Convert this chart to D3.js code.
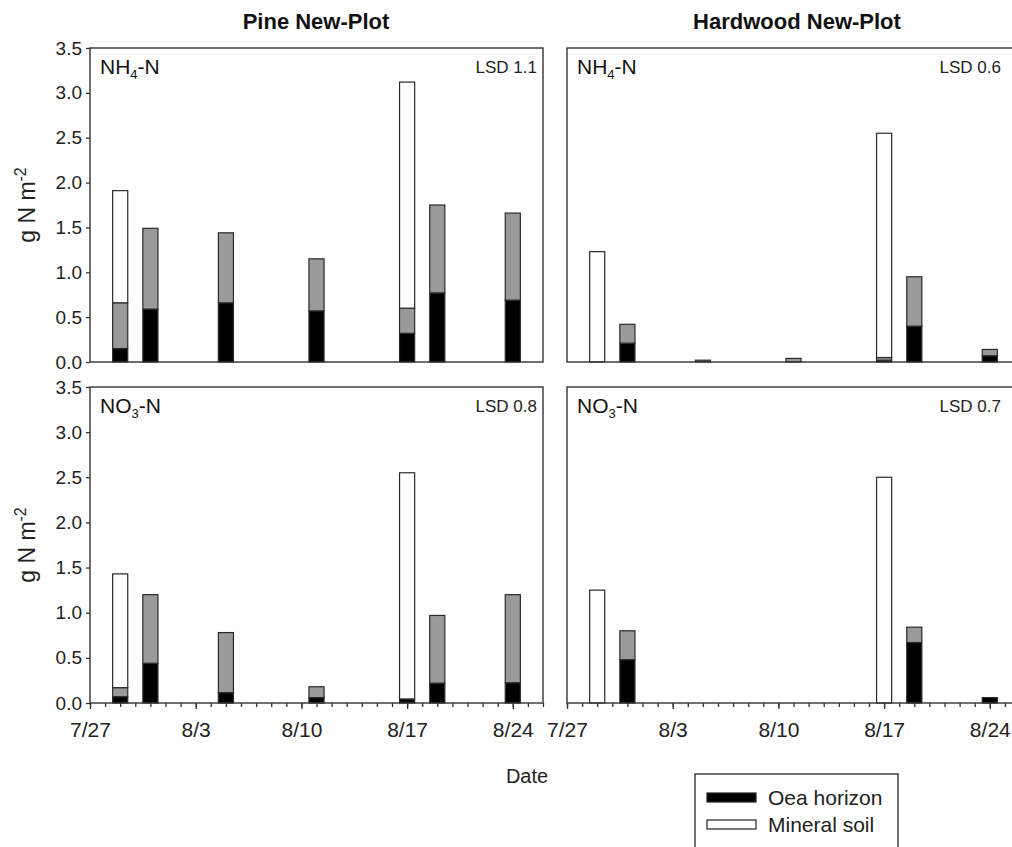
<!DOCTYPE html>
<html>
<head>
<meta charset="utf-8">
<script src="https://cdn.jsdelivr.net/npm/d3@7"></script>
<style>
  html, body { margin: 0; padding: 0; background: #fff; }
  svg { display: block; font-family: "Liberation Sans", Arial, sans-serif; }
</style>
</head>
<body>
<svg id="chart" width="1012" height="847"></svg>
<script>
// ---- data ----
const sampleDates = ["7/29", "7/31", "8/5", "8/11", "8/17", "8/19", "8/24"];
const tickLabels = ["7/27", "8/3", "8/10", "8/17", "8/24"];
const dateDomain = ["7/27", "8/26"];
const yTicks = [0, 0.5, 1.0, 1.5, 2.0, 2.5, 3.0, 3.5];

// Pine NH4-N
const pineNH4Oea     = [0.15, 0.59, 0.66, 0.57, 0.32, 0.77, 0.69];
const pineNH4Gray    = [0.51, 0.90, 0.78, 0.58, 0.28, 0.98, 0.97];
const pineNH4Mineral = [1.25, 0, 0, 0, 2.52, 0, 0];
// Hardwood NH4-N
const hardNH4Oea     = [0, 0.21, 0, 0, 0.02, 0.40, 0.07];
const hardNH4Gray    = [0, 0.21, 0.02, 0.04, 0.03, 0.55, 0.07];
const hardNH4Mineral = [1.23, 0, 0, 0, 2.50, 0, 0];
// Pine NO3-N
const pineNO3Oea     = [0.07, 0.44, 0.115, 0.06, 0.045, 0.22, 0.225];
const pineNO3Gray    = [0.10, 0.76, 0.665, 0.12, 0, 0.75, 0.975];
const pineNO3Mineral = [1.26, 0, 0, 0, 2.505, 0, 0];
// Hardwood NO3-N
const hardNO3Oea     = [0, 0.48, 0, 0, 0, 0.67, 0.06];
const hardNO3Gray    = [0, 0.32, 0, 0, 0, 0.17, 0];
const hardNO3Mineral = [1.25, 0, 0, 0, 2.50, 0, 0];

const colTitles = ["Pine New-Plot", "Hardwood New-Plot"];
const lsdLabels = ["LSD 1.1", "LSD 0.6", "LSD 0.8", "LSD 0.7"];
const legendLabels = ["Oea horizon", "Mineral soil"];

// ---- layout ----
const svg = d3.select("#chart");
const parse = d3.utcParse("%m/%d");
const colX = [[90, 543], [567, 1020]];
const rowY = [[48, 362], [387, 703]];
const layerKeys = ["oea", "gray", "mineral"];
const layerFill = { oea: "#000", gray: "#9a9a9a", mineral: "#fff" };
const font = "'Liberation Sans', Arial, sans-serif";

const panels = [
  { row: 0, col: 0, ion: "NH", sub: "4", lsd: lsdLabels[0], lsdOff: 6, series: [pineNH4Oea, pineNH4Gray, pineNH4Mineral] },
  { row: 0, col: 1, ion: "NH", sub: "4", lsd: lsdLabels[1], lsdOff: 19, series: [hardNH4Oea, hardNH4Gray, hardNH4Mineral] },
  { row: 1, col: 0, ion: "NO", sub: "3", lsd: lsdLabels[2], lsdOff: 6, series: [pineNO3Oea, pineNO3Gray, pineNO3Mineral] },
  { row: 1, col: 1, ion: "NO", sub: "3", lsd: lsdLabels[3], lsdOff: 19, series: [hardNO3Oea, hardNO3Gray, hardNO3Mineral] }
];

const day = 24 * 3600 * 1000;

panels.forEach(p => {
  const [x0, x1] = colX[p.col];
  const [y0, y1] = rowY[p.row];
  const x = d3.scaleUtc().domain(dateDomain.map(parse)).range([x0, x1]);
  const y = d3.scaleLinear().domain([0, 3.5]).range([y1, y0]);
  const g = svg.append("g");

  const rows = sampleDates.map((d, i) => ({
    date: parse(d), oea: p.series[0][i], gray: p.series[1][i], mineral: p.series[2][i]
  }));
  const stacked = d3.stack().keys(layerKeys)(rows);

  stacked.forEach(layer => {
    g.append("g").selectAll("rect")
      .data(layer.filter(s => s[1] - s[0] > 0))
      .join("rect")
      .attr("x", s => x(new Date(+s.data.date - day / 2)))
      .attr("width", s => x(new Date(+s.data.date + day / 2)) - x(new Date(+s.data.date - day / 2)))
      .attr("y", s => y(s[1]))
      .attr("height", s => y(s[0]) - y(s[1]))
      .attr("fill", layerFill[layer.key])
      .attr("stroke", "#2a2a2a")
      .attr("stroke-width", 1.2);
  });

  // frame
  g.append("rect")
    .attr("x", x0).attr("y", y0).attr("width", x1 - x0).attr("height", y1 - y0)
    .attr("fill", "none").attr("stroke", "#333").attr("stroke-width", 1.4);

  // y axis (left column only)
  if (p.col === 0) {
    const ya = g.append("g").attr("transform", `translate(${x0},0)`)
      .call(d3.axisLeft(y).tickValues(yTicks).tickFormat(d3.format(".1f")).tickSize(4).tickPadding(4));
    ya.select(".domain").remove();
    ya.selectAll("line").attr("stroke", "#333").attr("stroke-width", 1.3);
    ya.selectAll("text").attr("font-family", font).attr("font-size", 19).attr("fill", "#222");
  }

  // x axis (bottom row only)
  if (p.row === 1) {
    const minor = d3.utcDay.range(parse(dateDomain[0]), new Date(+parse(dateDomain[1]) + 1));
    const xm = g.append("g").attr("transform", `translate(0,${y1})`)
      .call(d3.axisBottom(x).tickValues(minor).tickSize(4).tickFormat(""));
    xm.select(".domain").remove();
    xm.selectAll("line").attr("stroke", "#333").attr("stroke-width", 1.3);
    const xa = g.append("g").attr("transform", `translate(0,${y1})`)
      .call(d3.axisBottom(x).tickValues(tickLabels.map(parse)).tickSize(6).tickPadding(13)
        .tickFormat(d3.utcFormat("%-m/%-d")));
    xa.select(".domain").remove();
    xa.selectAll("line").attr("stroke", "#333").attr("stroke-width", 1.3);
    xa.selectAll("text").attr("font-family", font).attr("font-size", 21).attr("fill", "#222");
  }

  // panel label
  const lbl = g.append("text").attr("x", x0 + 10).attr("y", y0 + 26)
    .attr("font-family", font).attr("font-size", 21).attr("fill", "#111");
  lbl.append("tspan").text(p.ion);
  lbl.append("tspan").attr("font-size", 13).attr("dy", 5).text(p.sub);
  lbl.append("tspan").attr("dy", -5).text("-N");

  g.append("text").attr("x", x1 - p.lsdOff).attr("y", y0 + 25)
    .attr("text-anchor", "end").attr("font-family", font).attr("font-size", 17).attr("fill", "#222")
    .text(p.lsd);
});

// column titles
const titleCenters = [316, 797];
colTitles.forEach((t, i) => {
  svg.append("text").attr("x", titleCenters[i]).attr("y", 29)
    .attr("text-anchor", "middle").attr("font-family", font).attr("font-weight", "bold")
    .attr("font-size", 22).attr("fill", "#111").text(t);
});

// y axis titles
rowY.forEach(([a, b]) => {
  const cy = (a + b) / 2;
  const t = svg.append("text").attr("transform", `translate(35,${cy}) rotate(-90)`)
    .attr("text-anchor", "middle").attr("font-family", font).attr("font-size", 23).attr("fill", "#222");
  t.append("tspan").text("g N m");
  t.append("tspan").attr("font-size", 16).attr("dy", -9).text("-2");
});

// x title
svg.append("text").attr("x", 527).attr("y", 783).attr("text-anchor", "middle")
  .attr("font-family", font).attr("font-size", 20).attr("fill", "#222").text("Date");

// legend
const lg = svg.append("g");
lg.append("rect").attr("x", 695).attr("y", 774).attr("width", 203).attr("height", 100)
  .attr("fill", "#fff").attr("stroke", "#333").attr("stroke-width", 1.4);
const legendFills = ["#000", "#fff"];
legendLabels.forEach((l, i) => {
  lg.append("rect").attr("x", 707).attr("y", 793 + i * 27).attr("width", 49).attr("height", 9)
    .attr("fill", legendFills[i]).attr("stroke", "#222").attr("stroke-width", 1.2);
  lg.append("text").attr("x", 768).attr("y", 805 + i * 27)
    .attr("font-family", font).attr("font-size", 21).attr("fill", "#222").text(l);
});
</script>
</body>
</html>
